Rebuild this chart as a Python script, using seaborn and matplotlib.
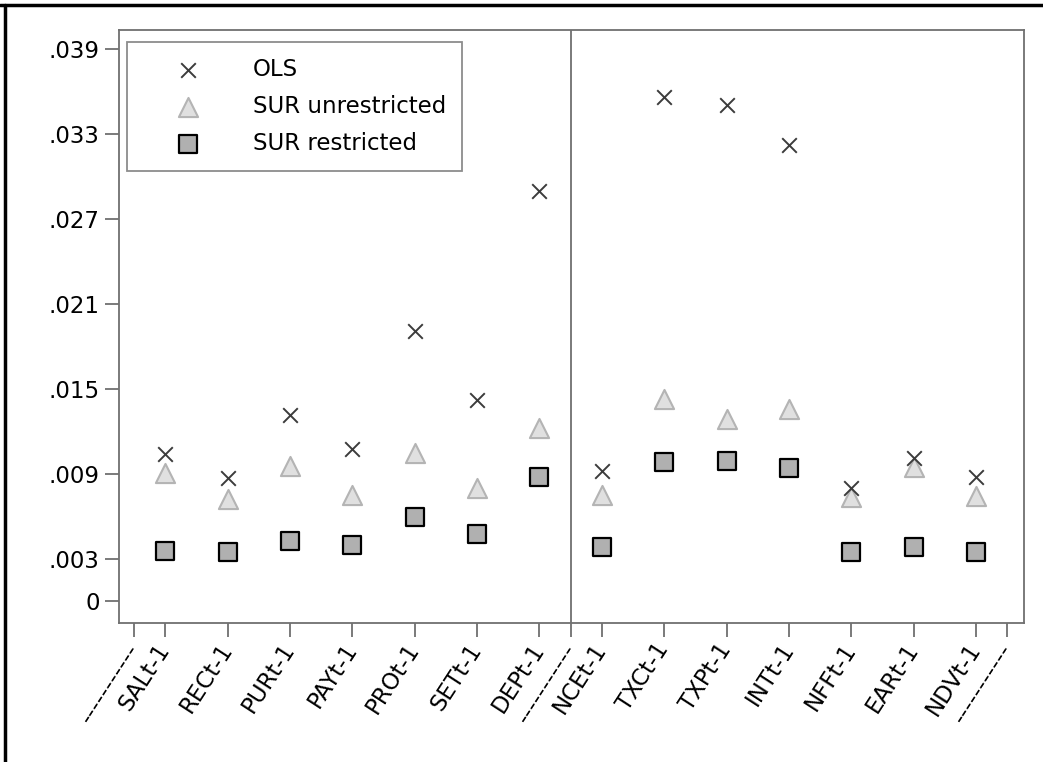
import seaborn as sns
import matplotlib.pyplot as plt
import pandas as pd
from matplotlib.lines import Line2D

# Data
cats_a = ["SALt-1", "RECt-1", "PURt-1", "PAYt-1", "PROt-1", "SETt-1", "DEPt-1"]
cats_b = ["NCEt-1", "TXCt-1", "TXPt-1", "INTt-1", "NFFt-1", "EARt-1", "NDVt-1"]
categories = cats_a + cats_b

ols = [0.01040, 0.00868, 0.01315, 0.01073, 0.01908, 0.01421, 0.02898,
       0.00922, 0.03562, 0.03503, 0.03221, 0.00798, 0.01014, 0.00880]
sur_unres = [0.00909, 0.00720, 0.00955, 0.00752, 0.01045, 0.00803, 0.01227,
             0.00752, 0.01430, 0.01287, 0.01360, 0.00735, 0.00948, 0.00741]
sur_res = [0.00355, 0.00346, 0.00424, 0.00397, 0.00593, 0.00475, 0.00875,
           0.00383, 0.00985, 0.00992, 0.00943, 0.00348, 0.00383, 0.00348]

yticks = [0, 0.003, 0.009, 0.015, 0.021, 0.027, 0.033, 0.039]
dash_label = "-----------"

df = pd.DataFrame({
    "Category": categories,
    "Pos": range(1, len(categories) + 1),
    "OLS": ols,
    "SURu": sur_unres,
    "SURr": sur_res,
})

sns.set_style("white")
plt.rcParams["font.family"] = ["DejaVu Sans"]
plt.rcParams["text.color"] = "black"
plt.rcParams["xtick.color"] = "black"
plt.rcParams["ytick.color"] = "black"

fig = plt.figure(figsize=(10.43, 7.62), dpi=100)
ax = fig.add_axes([119 / 1043, (762 - 623) / 762, (1024 - 119) / 1043, (623 - 30) / 762])

sns.scatterplot(data=df, x="Pos", y="OLS", marker="x", color="#3c3c3c", s=110,
                linewidth=1.4, label="OLS", ax=ax, zorder=3)
sns.scatterplot(data=df, x="Pos", y="SURu", marker="^", color="#e0e0e0", edgecolor="#b4b4b4",
                s=190, linewidth=1.5, label="SUR unrestricted", ax=ax, zorder=2)
sns.scatterplot(data=df, x="Pos", y="SURr", marker="s", color="#b0b0b0", edgecolor="black",
                s=170, linewidth=1.6, label="SUR restricted", ax=ax, zorder=2)

# separator between the two groups
n_a = len(cats_a)
ax.axvline(n_a + 0.5, color="#707070", linewidth=1.3, zorder=1)

# x ticks: dashed markers at group boundaries
xt = [0.5] + list(range(1, n_a + 1)) + [n_a + 0.5] + list(range(n_a + 1, len(categories) + 1)) + [len(categories) + 0.5]
xl = [dash_label] + cats_a + [dash_label] + cats_b + [dash_label]
ax.set_xticks(xt)
ax.set_xticklabels(xl, rotation=57, ha="right", va="center", rotation_mode="anchor", fontsize=16.5)
ax.set_xlim(0.2575, len(categories) + 0.77)

ax.set_yticks(yticks)
ax.set_yticklabels([("%.3f" % v).lstrip("0") if v else "0" for v in yticks], fontsize=16.5)
ax.set_ylim(-0.00153, 0.04033)

ax.set_xlabel("")
ax.set_ylabel("")
ax.tick_params(axis="both", which="both", length=10, width=1.3, color="#707070",
               labelcolor="black", bottom=True, left=True, pad=4)
ax.tick_params(axis="x", pad=6)
for sp in ax.spines.values():
    sp.set_color("#707070")
    sp.set_linewidth(1.3)

leg = ax.legend(loc="upper left", bbox_to_anchor=(0.009, 0.98), fontsize=16.5,
                frameon=True, fancybox=False, borderpad=0.7, labelspacing=0.62,
                handletextpad=0.87, borderaxespad=0, handlelength=3.93)
leg.get_frame().set_edgecolor("#707070")
leg.get_frame().set_linewidth(1.3)

# outer frame lines (top and left)
fig.add_artist(Line2D([0, 1], [1 - 5 / 762, 1 - 5 / 762], color="black", linewidth=2.5,
                      transform=fig.transFigure))
fig.add_artist(Line2D([5 / 1043, 5 / 1043], [0, 1 - 5 / 762], color="black", linewidth=2.5,
                      transform=fig.transFigure))

plt.savefig("out.png", dpi=100)
